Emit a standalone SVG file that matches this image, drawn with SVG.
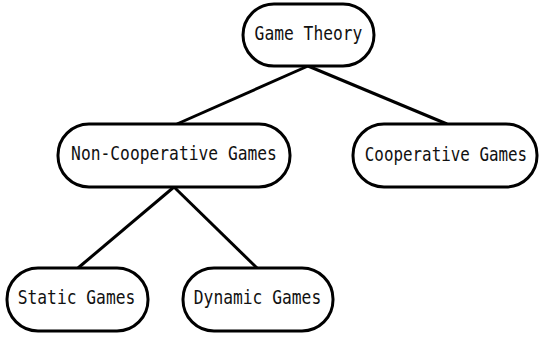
<svg xmlns="http://www.w3.org/2000/svg" width="540" height="337" viewBox="0 0 540 337">
<style>
.n rect{fill:#fff;stroke:#000;stroke-width:3}
.n text{font-family:"DejaVu Sans Mono",monospace;font-size:19px;fill:#111;text-anchor:middle;dominant-baseline:central}
#edges line{stroke:#000;stroke-width:3}
</style>
<rect width="540" height="337" fill="#fff"/>
<g id="edges">
<line x1="308" y1="66" x2="177" y2="124"/>
<line x1="308" y1="66" x2="447" y2="124"/>
<line x1="174" y1="187" x2="78" y2="268"/>
<line x1="174" y1="187" x2="257" y2="268"/>
</g>
<g id="n1" class="n"><rect x="243" y="4" width="131" height="62" rx="31"/><text transform="translate(308.5,34) scale(0.857,1)">Game Theory</text></g>
<g id="n2" class="n"><rect x="58" y="124" width="232" height="63" rx="31"/><text transform="translate(174,154) scale(0.857,1)">Non-Cooperative Games</text></g>
<g id="n3" class="n"><rect x="353" y="124" width="184" height="63" rx="31"/><text transform="translate(446,154) scale(0.835,1)">Cooperative Games</text></g>
<g id="n4" class="n"><rect x="7" y="268" width="141" height="63" rx="31"/><text transform="translate(76.5,298) scale(0.857,1)">Static Games</text></g>
<g id="n5" class="n"><rect x="183" y="268" width="150" height="63" rx="31"/><text transform="translate(257.5,298) scale(0.857,1)">Dynamic Games</text></g>
</svg>
